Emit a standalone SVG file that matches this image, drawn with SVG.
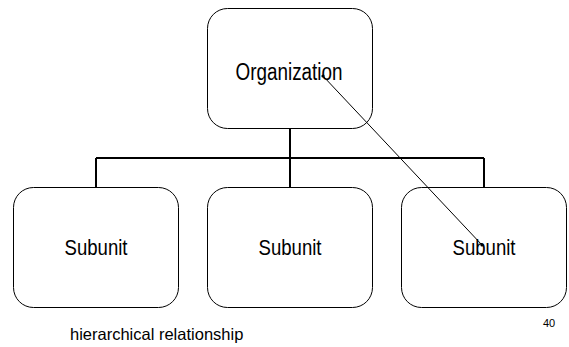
<svg xmlns="http://www.w3.org/2000/svg" width="569" height="347" viewBox="0 0 569 347">
<style>
.box{fill:#fff;stroke:#000;stroke-width:1}
.lbl{font-family:"Liberation Sans",Arial,sans-serif;text-anchor:middle;fill:#000}
.tree{fill:none;stroke:#000;stroke-width:2}
.note{font-family:"Liberation Sans",Arial,sans-serif;fill:#000}
</style>
<defs>
<marker id="dot" viewBox="0 0 4 4" refX="2" refY="2" markerWidth="4" markerHeight="4" markerUnits="userSpaceOnUse"><circle cx="2" cy="2" r="1.6" fill="#000"/></marker>
</defs>
<g id="organization">
<rect class="box" x="207.5" y="8.5" width="165" height="120" rx="20"/>
<text class="lbl" x="289" y="80" font-size="23" textLength="107" lengthAdjust="spacingAndGlyphs">Organization</text>
</g>
<g id="subunit1">
<rect class="box" x="13.5" y="187.5" width="165" height="120" rx="20"/>
<text class="lbl" x="96" y="255" font-size="22" textLength="63" lengthAdjust="spacingAndGlyphs">Subunit</text>
</g>
<g id="subunit2">
<rect class="box" x="207.5" y="187.5" width="165" height="120" rx="20"/>
<text class="lbl" x="290" y="255" font-size="22" textLength="63" lengthAdjust="spacingAndGlyphs">Subunit</text>
</g>
<g id="subunit3">
<rect class="box" x="401.5" y="187.5" width="165" height="120" rx="20"/>
<text class="lbl" x="484" y="255" font-size="22" textLength="63" lengthAdjust="spacingAndGlyphs">Subunit</text>
</g>
<g id="connectors">
<path class="tree" d="M290 128V158M96 158H484M96 158V188M290 158V188M484 158V188"/>
<line x1="323" y1="76" x2="482" y2="245" stroke="#000" stroke-width="1" marker-start="url(#dot)" marker-end="url(#dot)"/>
</g>
<text class="note" x="70" y="340" font-size="16.5">hierarchical relationship</text>
<text class="note" x="543" y="327" font-size="11">40</text>
</svg>
